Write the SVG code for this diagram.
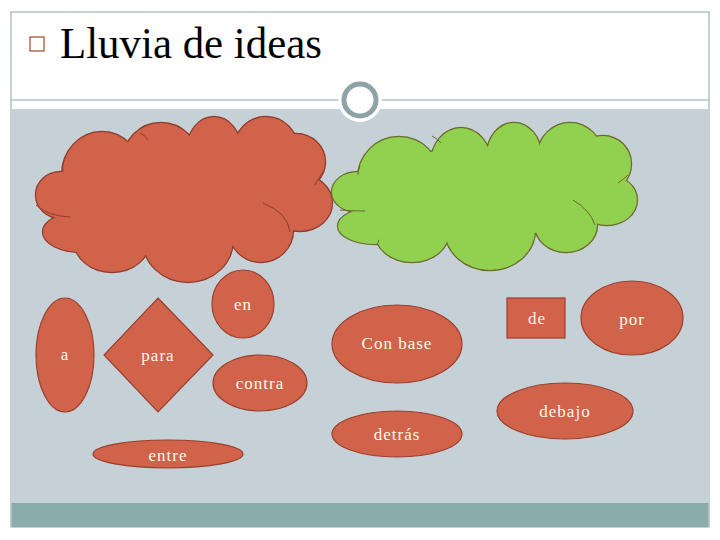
<svg xmlns="http://www.w3.org/2000/svg" xmlns:xlink="http://www.w3.org/1999/xlink" width="720" height="540" viewBox="0 0 720 540">
<style>
.shape{fill:#D0634A;stroke:#9A3F2E;stroke-width:1.2}
.lbl{font-family:"Liberation Serif","DejaVu Serif",serif;font-size:17px;fill:#FFF8EC;text-anchor:middle;letter-spacing:1px}
.inner{fill:none;stroke-width:1}
</style>
<defs>
<g id="redLobes">
<ellipse cx="185" cy="200" rx="120" ry="50"/>
<ellipse cx="61" cy="195" rx="25" ry="23"/>
<ellipse cx="82" cy="232" rx="39" ry="20"/>
<ellipse cx="102" cy="175" rx="40" ry="43"/>
<ellipse cx="161" cy="161" rx="38" ry="38"/>
<ellipse cx="214" cy="150" rx="27" ry="33"/>
<ellipse cx="266" cy="150" rx="32" ry="33"/>
<ellipse cx="296" cy="162" rx="29" ry="28"/>
<ellipse cx="300" cy="203" rx="32" ry="28"/>
<ellipse cx="261" cy="230" rx="32" ry="32"/>
<ellipse cx="188" cy="240" rx="45" ry="42"/>
<ellipse cx="112" cy="240" rx="38" ry="32"/>
</g>
<g id="greenLobes">
<ellipse cx="485" cy="192" rx="120" ry="45"/>
<ellipse cx="358" cy="192" rx="26" ry="20"/>
<ellipse cx="375" cy="226" rx="37" ry="18"/>
<ellipse cx="399" cy="178" rx="41" ry="41"/>
<ellipse cx="461" cy="163" rx="30" ry="35"/>
<ellipse cx="514" cy="155" rx="27" ry="32"/>
<ellipse cx="570" cy="155" rx="32" ry="32"/>
<ellipse cx="603" cy="164" rx="28" ry="28"/>
<ellipse cx="607" cy="200" rx="30" ry="25"/>
<ellipse cx="566" cy="225" rx="31" ry="27"/>
<ellipse cx="490" cy="230" rx="45" ry="40"/>
<ellipse cx="412" cy="232" rx="37" ry="30"/>
</g>
</defs>

<!-- slide frame -->
<rect x="11" y="12" width="698" height="515" fill="#FFFFFF" stroke="#8DA3A8" stroke-width="1"/>
<rect x="11.5" y="109" width="697" height="394" fill="#C5D1D7"/>
<rect x="11.5" y="503" width="697" height="24" fill="#8AACAC"/>
<line x1="11" y1="100" x2="709" y2="100" stroke="#8DA3A8" stroke-width="1"/>
<circle cx="360" cy="100" r="22" fill="#FFFFFF"/>
<circle cx="360" cy="100" r="16" fill="#FFFFFF" stroke="#8DA3A8" stroke-width="5"/>

<!-- title -->
<g id="title">
<rect x="30" y="37" width="14" height="14" fill="none" stroke="#B5694E" stroke-width="1.5"/>
<text x="60" y="58" font-family="'Liberation Serif','DejaVu Serif',serif" font-size="44" fill="#000000" textLength="262" lengthAdjust="spacingAndGlyphs">Lluvia de ideas</text>
</g>

<!-- clouds -->
<g id="cloud-red">
<use xlink:href="#redLobes" fill="#D0634A" stroke="#8E3B2C" stroke-width="2.4"/>
<use xlink:href="#redLobes" fill="#D0634A" stroke="none"/>
<path class="inner" stroke="#8E3B2C" d="M36 205 Q48 216 70 217 M63 172 Q62 166 64 160 M108 70 M315 185 Q320 176 323 172 M263 203 Q288 213 290 232 M140 133 Q146 136 148 140"/>
</g>
<g id="cloud-green">
<use xlink:href="#greenLobes" fill="#92D050" stroke="#6B6A2A" stroke-width="2.4"/>
<use xlink:href="#greenLobes" fill="#92D050" stroke="none"/>
<path class="inner" stroke="#6B6A2A" d="M340 210 Q350 211 365 211 M358 175 Q358 170 360 166 M618 183 Q625 178 628 175 M573 200 Q590 210 595 225 M432 136 Q438 139 441 143 M377 244 Q380 240 378 240"/>
</g>

<!-- nodes -->
<g id="n-en"><ellipse class="shape" cx="243" cy="304" rx="31" ry="34"/><text class="lbl" x="243" y="310">en</text></g>
<g id="n-a"><ellipse class="shape" cx="65" cy="355" rx="29" ry="57"/><text class="lbl" x="65" y="360">a</text></g>
<g id="n-para"><polygon class="shape" points="158,298 213,355 158,412 104,355"/><text class="lbl" x="158" y="361">para</text></g>
<g id="n-contra"><ellipse class="shape" cx="260" cy="383" rx="47" ry="28"/><text class="lbl" x="260" y="389">contra</text></g>
<g id="n-entre"><ellipse class="shape" cx="168" cy="454" rx="75" ry="14"/><text class="lbl" x="168" y="461">entre</text></g>
<g id="n-conbase"><ellipse class="shape" cx="397" cy="344" rx="65" ry="39"/><text class="lbl" x="397" y="349">Con base</text></g>
<g id="n-de"><rect class="shape" x="507" y="298" width="58" height="40"/><text class="lbl" x="537" y="324">de</text></g>
<g id="n-por"><ellipse class="shape" cx="632" cy="318" rx="51" ry="37"/><text class="lbl" x="632" y="325">por</text></g>
<g id="n-debajo"><ellipse class="shape" cx="565" cy="411" rx="68" ry="28"/><text class="lbl" x="565" y="417">debajo</text></g>
<g id="n-detras"><ellipse class="shape" cx="397" cy="434" rx="65" ry="23"/><text class="lbl" x="397" y="440">detrás</text></g>
<g id="connectors"></g>
</svg>
